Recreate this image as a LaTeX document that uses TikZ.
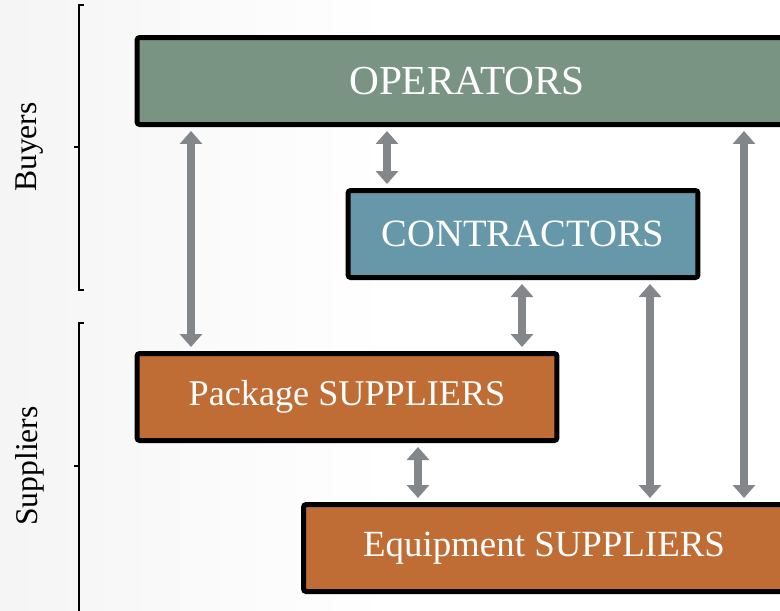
\documentclass[tikz,border=0pt]{standalone}
\usepackage{fontspec}
\setmainfont{Liberation Serif}
\usepackage{xcolor}
\usetikzlibrary{positioning,arrows.meta}

\definecolor{opgreen}{HTML}{7A9484}
\definecolor{conblue}{HTML}{6798A9}
\definecolor{suprust}{HTML}{C06C35}
\definecolor{linkgray}{HTML}{84878A}

\tikzset{
    box/.style={draw=black, line width=0.1cm, rounded corners=1.5pt, text=white,
        inner sep=0pt, minimum height=1.74cm},
    link/.style={draw=linkgray, line width=0.17cm,
        {Triangle[width=0.44cm,length=0.26cm]}-{Triangle[width=0.44cm,length=0.26cm]},
        shorten <=0.08cm, shorten >=0.08cm},
    bracket/.style={line width=0.8pt},
    side/.style={rotate=90, font=\fontsize{18}{21}\selectfont}
}

\begin{document}
\begin{tikzpicture}[x=0.02cm, y=-0.02cm]
    \useasboundingbox (0,0) rectangle (780,610);
    \clip (0,0) rectangle (780,610);
    % Background
    \fill [left color=black!4, right color=white, middle color=white] (0,0) rectangle (780,610);

    % Boxes
    \node [box, fill=opgreen, minimum width=13.2cm, font=\fontsize{23.5}{27}\selectfont] (ops) at (467,81) {OPERATORS};
    \node [box, fill=conblue, minimum width=7cm, font=\fontsize{22}{26}\selectfont] (con) at (523,234) {CONTRACTORS};
    \node [box, fill=suprust, minimum width=8.4cm, font=\fontsize{20.6}{24}\selectfont] (pkg) at (347,397) {Package SUPPLIERS};
    \node [box, fill=suprust, minimum width=9.62cm, font=\fontsize{21}{25}\selectfont] (eqp) at (544,548) {Equipment SUPPLIERS};

    % Arrow columns
    \coordinate (c1) at (191,0);
    \coordinate (c2) at (387,0);
    \coordinate (c3) at (522,0);
    \coordinate (c4) at (418,0);
    \coordinate (c5) at (650,0);
    \coordinate (c6) at (744,0);

    % Links
    \draw [link] (c1 |- ops.south) -- (c1 |- pkg.north);
    \draw [link] (c2 |- ops.south) -- (c2 |- con.north);
    \draw [link] (c3 |- con.south) -- (c3 |- pkg.north);
    \draw [link] (c4 |- pkg.south) -- (c4 |- eqp.north);
    \draw [link] (c5 |- con.south) -- (c5 |- eqp.north);
    \draw [link] (c6 |- ops.south) -- (c6 |- eqp.north);

    % Buyers
    \draw [bracket] (84,5) -- (79,5) -- (79,290) -- (84,290);
    \draw [bracket] (79,147) -- (74,147);
    \node [side] (buyers) at (30,147) {Buyers};

    % Suppliers
    \draw [bracket] (84,323) -- (79,323) -- (79,615);
    \draw [bracket] (79,466) -- (74,466);
    \node [side] (suppliers) at (30,466) {Suppliers};
\end{tikzpicture}
\end{document}
